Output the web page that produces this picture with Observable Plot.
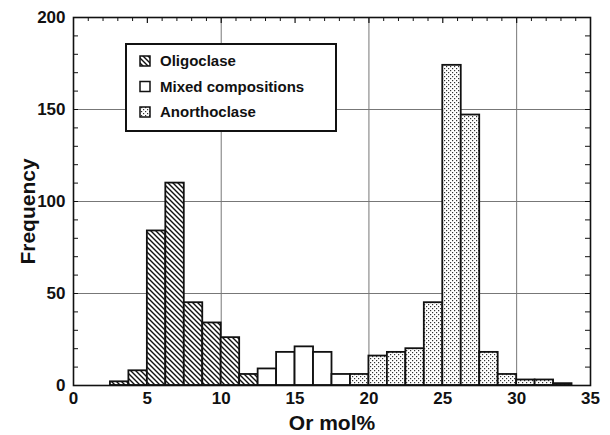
<!DOCTYPE html>
<html>
<head>
<meta charset="utf-8">
<script src="https://cdn.jsdelivr.net/npm/d3@7"></script>
<script src="https://cdn.jsdelivr.net/npm/@observablehq/plot@0.6"></script>
<style>
  html, body { margin: 0; padding: 0; background: #fff; }
  #wrap { position: relative; width: 610px; height: 435px; overflow: hidden; }
  #legend { position: absolute; left: 125px; top: 43px; }
</style>
</head>
<body>
<svg width="0" height="0" style="position:absolute">
  <defs>
    <pattern id="hatch" patternUnits="userSpaceOnUse" width="5" height="5">
      <rect width="5" height="5" fill="#fff"/>
      <path d="M0,0 L5,5 M-1,4 L1,6 M4,-1 L6,1" stroke="#111" stroke-width="1.4"/>
    </pattern>
    <pattern id="dots" patternUnits="userSpaceOnUse" width="4" height="4">
      <rect width="4" height="4" fill="#fff"/>
      <rect x="0" y="0" width="1.2" height="1.2" fill="#333"/>
      <rect x="2" y="2" width="1.2" height="1.2" fill="#333"/>
    </pattern>
  </defs>
</svg>
<div id="wrap"></div>
<script>
// ---- data ----
const binWidth = 1.25;
const oligoclaseStart = [2.5, 3.75, 5, 6.25, 7.5, 8.75, 10, 11.25];
const oligoclaseFreq  = [2, 8, 84, 110, 45, 34, 26, 6];
const mixedStart = [12.5, 13.75, 15, 16.25, 17.5];
const mixedFreq  = [9, 18, 21, 18, 6];
const anorthoclaseStart = [18.75, 20, 21.25, 22.5, 23.75, 25, 26.25, 27.5, 28.75, 30, 31.25, 32.5];
const anorthoclaseFreq  = [6, 16, 18, 20, 45, 174, 147, 18, 6, 3, 3, 1];
const seriesNames = ["Oligoclase", "Mixed compositions", "Anorthoclase"];
const xTickLabels = [0, 5, 10, 15, 20, 25, 30, 35];
const yTickLabels = [0, 50, 100, 150, 200];
const xGrid = [10, 20, 30];
const yGrid = [50, 100, 150];
const xMinor = [1,2,3,4,6,7,8,9,11,12,13,14,16,17,18,19,21,22,23,24,26,27,28,29,31,32,33,34];
const xMajor = [5, 10, 15, 20, 25, 30];
const yMinor = [10,20,30,40,50,60,70,80,90,100,110,120,130,140,150,160,170,180,190];
const xLabel = "Or mol%";
const yLabel = "Frequency";

const rows = (starts, freqs) => starts.map((s, i) => ({x1: s, x2: s + binWidth, freq: freqs[i]}));

const W = 610, H = 435, mL = 73, mR = 20, mT = 17, mB = 50;
const pw = W - mL - mR, ph = H - mT - mB;
const font = "'Liberation Sans', Arial, Helvetica, sans-serif";

const chart = Plot.plot({
  width: W, height: H,
  marginLeft: mL, marginRight: mR, marginTop: mT, marginBottom: mB,
  style: {fontFamily: font, fontWeight: "bold", color: "#111", background: "transparent", overflow: "visible"},
  x: {domain: [0, 35]},
  y: {domain: [0, 200]},
  marks: [
    Plot.ruleX(xGrid, {stroke: "#777", strokeWidth: 1}),
    Plot.ruleY(yGrid, {stroke: "#777", strokeWidth: 1}),
    Plot.rectY(rows(oligoclaseStart, oligoclaseFreq), {x1: "x1", x2: "x2", y: "freq", fill: "url(#hatch)", stroke: "#111", strokeWidth: 1.8}),
    Plot.rectY(rows(mixedStart, mixedFreq), {x1: "x1", x2: "x2", y: "freq", fill: "#fff", stroke: "#111", strokeWidth: 1.8}),
    Plot.rectY(rows(anorthoclaseStart, anorthoclaseFreq), {x1: "x1", x2: "x2", y: "freq", fill: "url(#dots)", stroke: "#111", strokeWidth: 1.8}),
    Plot.tickY(yMinor, {stroke: "#111", strokeWidth: 1, insetRight: pw - 5}),
    Plot.tickY(yMinor, {stroke: "#111", strokeWidth: 1, insetLeft: pw - 5}),
    Plot.tickX(xMinor, {stroke: "#111", strokeWidth: 1, insetBottom: ph - 4}),
    Plot.tickX(xMajor, {stroke: "#111", strokeWidth: 1.2, insetBottom: ph - 6}),
    Plot.frame({stroke: "#111", strokeWidth: 1.6}),
    Plot.axisX(xTickLabels, {tickSize: 0, tickPadding: 6, fontSize: 17, fontWeight: "bold", label: null}),
    Plot.axisY(yTickLabels, {tickSize: 0, tickPadding: 8, fontSize: 17, fontWeight: "bold", label: null}),
    Plot.text([xLabel], {frameAnchor: "bottom", lineAnchor: "bottom", dy: 44, fontSize: 21, fontWeight: "bold", fill: "#111"}),
    Plot.text([yLabel], {frameAnchor: "left", rotate: -90, textAnchor: "middle", lineAnchor: "middle", dx: -45, dy: 10, fontSize: 21, fontWeight: "bold", fill: "#111"})
  ]
});
const wrap = document.getElementById("wrap");
wrap.appendChild(chart);

// legend (inside the plot area, as in the reference)
const fills = ["url(#hatch)", "#fff", "url(#dots)"];
const ns = "http://www.w3.org/2000/svg";
const lg = document.createElementNS(ns, "svg");
lg.setAttribute("id", "legend");
lg.setAttribute("width", 212);
lg.setAttribute("height", 89);
let html = `<rect x="1" y="1" width="210" height="87" fill="#fff" stroke="#111" stroke-width="2"/>`;
seriesNames.forEach((name, i) => {
  const cy = 18 + i * 25.5;
  html += `<rect x="15" y="${cy - 5}" width="10" height="10" fill="${fills[i]}" stroke="#111" stroke-width="1.5"/>`;
  html += `<text x="35" y="${cy}" dy="0.36em" font-family="${font.replace(/'/g, "")}" font-weight="bold" font-size="15" fill="#111">${name}</text>`;
});
lg.innerHTML = html;
wrap.appendChild(lg);
</script>
</body>
</html>
